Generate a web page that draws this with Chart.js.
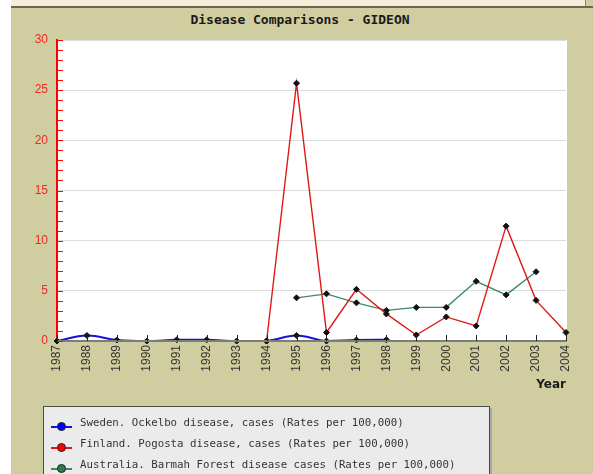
<!DOCTYPE html>
<html>
<head>
<meta charset="utf-8">
<script src="https://cdn.jsdelivr.net/npm/chart.js@4/dist/chart.umd.min.js"></script>
<style>
  html, body { margin: 0; padding: 0; background: #ffffff; overflow: hidden; }
  body { width: 593px; height: 474px; position: relative; }
  #panel { position: absolute; left: 11px; top: 0; width: 582px; height: 474px; background: #d0cea0; }
  #strip { position: absolute; left: 11px; top: 0; width: 574px; height: 6px; background: #f4eedb; }
  #stripLine { position: absolute; left: 11px; top: 6px; width: 582px; height: 2px; background: #6e6651; }
  #stripEdge { position: absolute; left: 585px; top: 0; width: 1px; height: 6px; background: #8a8470; }
  #title { position: absolute; left: 0; top: 12px; width: 600px; text-align: center;
           font: bold 13px "DejaVu Sans Mono", monospace; color: #1a1a1a; }
  #chartBox { position: absolute; left: 11px; top: 0; width: 582px; height: 474px; }
  #legend { position: absolute; left: 43px; top: 406px; width: 447px; height: 90px;
            background: #ebebeb; border: 1px solid #4a4a4a; box-shadow: 2px 2px 0 #a8a8a8;
            padding-top: 9px; box-sizing: border-box; }
  .row { height: 21px; line-height: 21px; position: relative;
         font: 10.75px "DejaVu Sans Mono", monospace; color: #333; white-space: nowrap; }
  .mk { position: absolute; left: 7px; top: 10px; width: 21px; height: 2px; }
  .dot { position: absolute; left: 13px; top: 6px; width: 9px; height: 9px; border-radius: 50%;
         border: 1px solid #222; box-sizing: border-box; }
  .txt { position: absolute; left: 36px; }
</style>
</head>
<body>
<div id="panel"></div>
<div id="strip"></div>
<div id="stripLine"></div>
<div id="stripEdge"></div>
<div id="title">Disease Comparisons - GIDEON</div>
<div id="chartBox"><canvas id="chart"></canvas></div>
<div id="legend"></div>
<script>
// categories and series
const years = ['1987', '1988', '1989', '1990', '1991', '1992', '1993', '1994', '1995',
               '1996', '1997', '1998', '1999', '2000', '2001', '2002', '2003', '2004'];
const sweden = [0, 0.55, 0.1, 0, 0.12, 0.12, 0, 0, 0.55, 0, 0.1, 0.12,
                null, null, null, null, null, null];
const finland = [null, null, null, null, null, null, null, 0, 25.7, 0.85, 5.15, 2.7,
                 0.6, 2.4, 1.5, 11.45, 4.05, 0.85];
const australia = [null, null, null, null, null, null, null, null, 4.3, 4.7, 3.8, 3.05,
                   3.35, 3.35, 5.95, 4.6, 6.9, null];
const yTicks = [0, 5, 10, 15, 20, 25, 30];

const seriesNames = [
    'Sweden. Ockelbo disease, cases (Rates per 100,000)',
    'Finland. Pogosta disease, cases (Rates per 100,000)',
    'Australia. Barmah Forest disease cases (Rates per 100,000)'
];
const lineColors = ['#1414d2', '#e01818', '#3f8a5e'];
const legendDots = ['#0000ff', '#ff0000', '#2e7d4f'];

// white plot background
const plotBg = {
    id: 'plotBg',
    beforeDraw(chart) {
        const { ctx, chartArea: a } = chart;
        ctx.save();
        ctx.fillStyle = '#ffffff';
        ctx.fillRect(a.left, a.top, a.right - a.left + 1, a.bottom - a.top);
        ctx.restore();
    }
};

// axis decorations drawn on top of the lines: gray x axis, inward ticks
const axisDecor = {
    id: 'axisDecor',
    afterDatasetsDraw(chart) {
        const { ctx, chartArea: a, scales: { x, y } } = chart;
        ctx.save();
        ctx.strokeStyle = '#7c7c7c';
        ctx.lineWidth = 2;
        ctx.beginPath();
        ctx.moveTo(a.left, a.bottom);
        ctx.lineTo(a.right + 1, a.bottom);
        ctx.stroke();
        ctx.strokeStyle = '#222';
        ctx.lineWidth = 1;
        years.forEach((yr, i) => {
            const px = Math.round(x.getPixelForValue(i)) + 0.5;
            ctx.beginPath();
            ctx.moveTo(px, a.bottom);
            ctx.lineTo(px, a.bottom - 6);
            ctx.stroke();
        });
        ctx.strokeStyle = '#ff0000';
        for (let v = y.min; v <= y.max; v++) {
            const py = Math.round(y.getPixelForValue(v)) + 0.5;
            ctx.beginPath();
            ctx.moveTo(a.left, py);
            ctx.lineTo(a.left + 6, py);
            ctx.stroke();
        }
        ctx.restore();
    }
};

const ds = [sweden, finland, australia].map((vals, i) => ({
    label: seriesNames[i],
    data: vals,
    borderColor: lineColors[i],
    borderWidth: i === 0 ? 2 : 1.4,
    tension: i === 0 ? 0.4 : 0,
    pointStyle: 'rectRot',
    pointRadius: 3,
    pointBackgroundColor: '#111',
    pointBorderColor: '#111',
    pointBorderWidth: 1,
    clip: false,
    spanGaps: false
}));

new Chart(document.getElementById('chart'), {
    type: 'line',
    data: { labels: years, datasets: ds },
    options: {
        responsive: true,
        maintainAspectRatio: false,
        animation: false,
        layout: { padding: { left: 0, right: 27, top: 40, bottom: 79 } },
        plugins: {
            legend: { display: false },
            tooltip: { enabled: false }
        },
        scales: {
            x: {
                offset: false,
                grid: { display: false, drawTicks: false },
                border: { display: false },
                ticks: {
                    autoSkip: false, minRotation: 90, maxRotation: 90, padding: 4,
                    color: '#333', font: { family: "'Liberation Sans', Arial, sans-serif", size: 12 }
                },
                title: {
                    display: true, text: 'Year', align: 'end', color: '#1a1a1a',
                    padding: { top: 0, bottom: 3 },
                    font: { family: "'DejaVu Sans'", size: 12, weight: 'bold' }
                },
                afterFit(scale) { scale.height = 54; }
            },
            y: {
                min: 0, max: 30,
                afterBuildTicks(scale) { scale.ticks = yTicks.map(v => ({ value: v })); },
                grid: { color: '#dcdcdc', lineWidth: 1, drawTicks: false },
                border: { color: '#ff0000', width: 2 },
                ticks: {
                    padding: 9, color: '#f02828',
                    font: { family: "'Liberation Sans', Arial, sans-serif", size: 12 }
                },
                afterFit(scale) { scale.width = 46; }
            }
        }
    },
    plugins: [plotBg, axisDecor]
});

// legend box built from the same series names and colours
const legend = document.getElementById('legend');
seriesNames.forEach((name, i) => {
    const row = document.createElement('div');
    row.className = 'row';
    row.innerHTML = '<span class="mk" style="background:' + lineColors[i] + '"></span>' +
        '<span class="dot" style="background:' + legendDots[i] + '"></span>' +
        '<span class="txt"></span>';
    row.querySelector('.txt').textContent = name;
    legend.appendChild(row);
});
</script>
</body>
</html>
